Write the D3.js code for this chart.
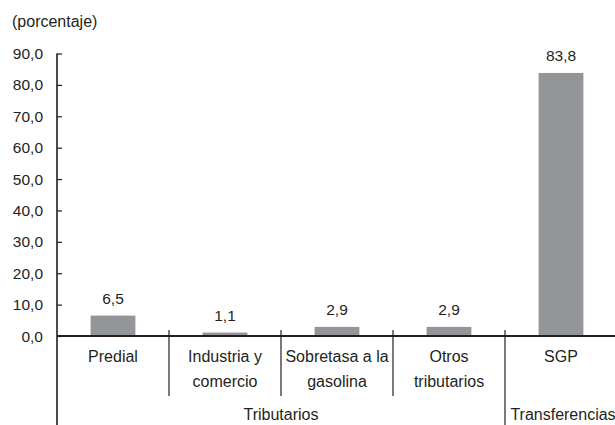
<!DOCTYPE html>
<html><head><meta charset="utf-8">
<script src="https://cdn.jsdelivr.net/npm/d3@7"></script>
<style>body{margin:0;background:#fff;} text{font-family:"Liberation Sans",Arial,sans-serif;fill:#231f20;}</style>
</head><body><svg id="c" width="615" height="425"></svg>
<script>
const categories = ["Predial", "Industria y\ncomercio", "Sobretasa a la\ngasolina", "Otros\ntributarios", "SGP"];
const values = [6.5, 1.1, 2.9, 2.9, 83.8];
const valueLabels = ["6,5", "1,1", "2,9", "2,9", "83,8"];
const groups = [{name: "Tributarios", count: 4}, {name: "Transferencias", count: 1}];
const yTicks = [0, 10, 20, 30, 40, 50, 60, 70, 80, 90];
const yTickLabels = ["0,0","10,0","20,0","30,0","40,0","50,0","60,0","70,0","80,0","90,0"];

const svg = d3.select("#c");
const x0 = 57, x1 = 617, yTop = 53.5, yZero = 336;
const x = d3.scaleBand().domain(d3.range(categories.length)).range([x0, x1]).paddingInner(0).paddingOuter(0);
const y = d3.scaleLinear().domain([0, 90]).range([yZero, yTop]);
const bw = x.bandwidth() * 0.4;
const fs = 15.5;

svg.append("text").attr("x", 12).attr("y", 27).attr("font-size", 16).text("(porcentaje)");

// bars
svg.selectAll("rect.bar").data(values).enter().append("rect")
  .attr("x", (d,i) => x(i) + (x.bandwidth()-bw)/2)
  .attr("y", d => y(d)).attr("width", bw).attr("height", d => yZero - y(d))
  .attr("fill", "#939598");

svg.selectAll("text.val").data(values).enter().append("text")
  .attr("x", (d,i) => x(i) + x.bandwidth()/2).attr("y", d => y(d) - 11.5)
  .attr("text-anchor", "middle").attr("font-size", fs).text((d,i) => valueLabels[i]);

// y axis
const yAxis = d3.axisRight(y).tickValues(yTicks).tickSize(5).tickFormat("");
const gy = svg.append("g").attr("transform", `translate(${x0},0)`).call(yAxis);
gy.select(".domain").remove();
gy.selectAll(".tick line").attr("stroke", "#231f20").attr("stroke-width", 1.2);
svg.append("line").attr("x1", x0).attr("x2", x0).attr("y1", yTop).attr("y2", 425).attr("stroke", "#231f20").attr("stroke-width", 1.6);
svg.selectAll("text.yl").data(yTicks).enter().append("text")
  .attr("x", 43).attr("y", d => y(d) + 5.5).attr("text-anchor", "end").attr("font-size", fs)
  .text((d,i) => yTickLabels[i]);

// x axis
svg.append("line").attr("x1", x0).attr("x2", 615).attr("y1", yZero).attr("y2", yZero).attr("stroke", "#231f20").attr("stroke-width", 1.8);

// separators
let idx = 0;
const bounds = [];
groups.forEach((g, gi) => {
  for (let k = 1; k < g.count; k++) bounds.push({i: idx + k, full: false});
  idx += g.count;
  if (gi < groups.length - 1) bounds.push({i: idx, full: true});
});
bounds.forEach(b => {
  svg.append("line").attr("x1", x(b.i)).attr("x2", x(b.i))
    .attr("y1", yZero - 6).attr("y2", b.full ? 425 : 396)
    .attr("stroke", "#231f20").attr("stroke-width", 1.2);
});

// category labels
categories.forEach((c, i) => {
  const lines = c.split("\n");
  const t = svg.append("text").attr("text-anchor", "middle").attr("font-size", 16);
  lines.forEach((l, j) => {
    t.append("tspan").attr("x", x(i) + x.bandwidth()/2).attr("y", 362 + j * 25).text(l);
  });
});

// group labels
idx = 0;
groups.forEach(g => {
  const cx = (x(idx) + x(idx + g.count - 1) + x.bandwidth()) / 2;
  svg.append("text").attr("x", g.name === "Transferencias" ? 563 : cx).attr("y", 420)
    .attr("text-anchor", "middle").attr("font-size", 16).text(g.name);
  idx += g.count;
});
</script></body></html>
